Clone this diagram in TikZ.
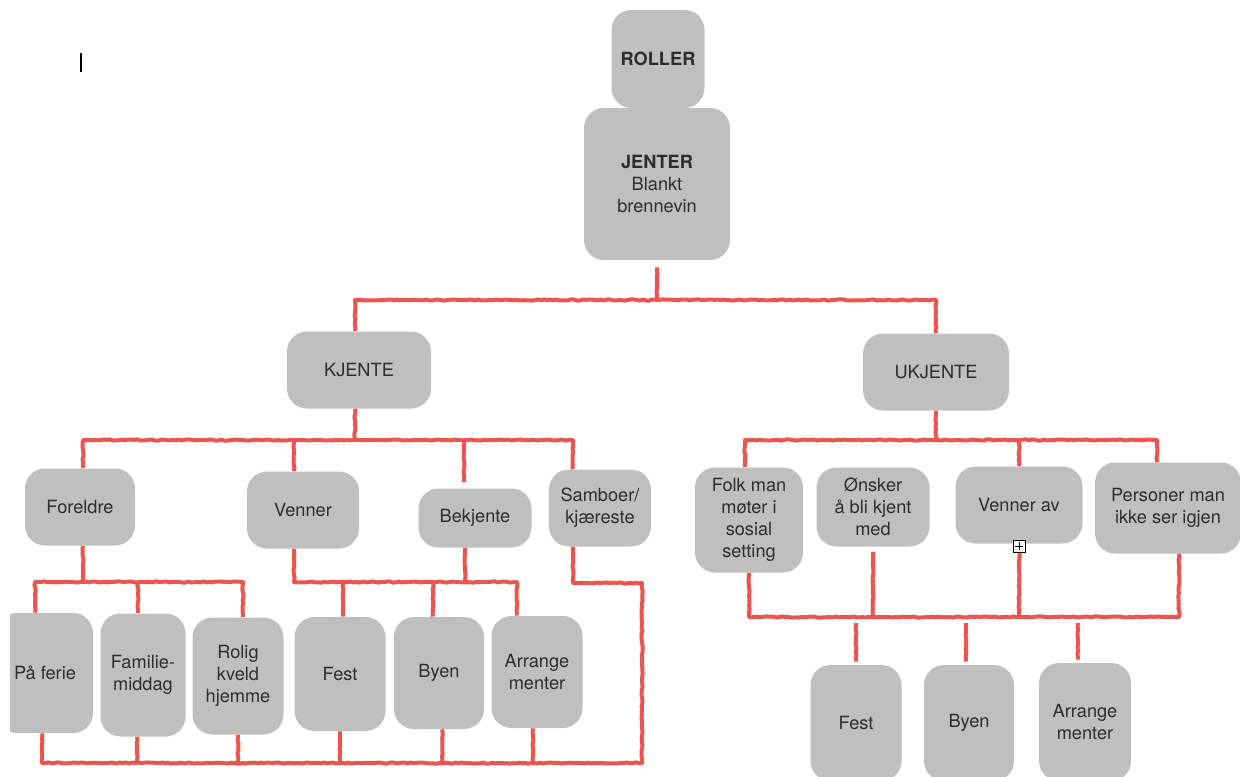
\documentclass[tikz,border=0pt]{standalone}
\usepackage{fontspec}
\setmainfont{TeX Gyre Heros}
\usetikzlibrary{decorations.pathmorphing}

\definecolor{boxgray}{RGB}{191,191,191}
\definecolor{inkgray}{RGB}{45,45,45}
\definecolor{tiered}{RGB}{236,84,79}

\tikzset{
  role/.style={fill=boxgray, rounded corners=10pt, text=inkgray, align=center,
    inner sep=0pt, font=\fontsize{9.1}{10.9}\selectfont},
  tie/.style={draw=tiered, line width=2pt, line join=round, decorate,
    decoration={random steps, segment length=1.5pt, amplitude=0.3pt}},
  toggle/.style={draw=black, fill=white, line width=0.5pt, minimum size=6pt,
    inner sep=0pt, path picture={
      \draw[line width=0.45pt] ([xshift=-1.9pt]path picture bounding box.center)
        -- ([xshift=1.9pt]path picture bounding box.center);
      \draw[line width=0.45pt] ([yshift=-1.9pt]path picture bounding box.center)
        -- ([yshift=1.9pt]path picture bounding box.center);}},
}

\begin{document}
\begin{tikzpicture}[x=0.5pt, y=-0.5pt]
\useasboundingbox (0,0) rectangle (1240,776);

\path (658,59) node[role, minimum width=46.5pt, minimum height=49pt] (roller) {\textbf{ROLLER}}
		(657,184) node[role, minimum width=73pt, minimum height=76pt] (jenter) {\textbf{JENTER}\\Blankt\\brennevin}
		(359,370) node[role, minimum width=72pt, minimum height=38.5pt] (kjente) {KJENTE}
		(936,372) node[role, minimum width=73pt, minimum height=38.5pt] (ukjente) {UKJENTE}
		(80,507) node[role, minimum width=55pt, minimum height=38.5pt] (foreldre) {Foreldre}
		(303,510) node[role, minimum width=56pt, minimum height=38.5pt] (venner) {Venner}
		(475,518) node[role, minimum width=56.5pt, minimum height=29.5pt] (bekjente) {Bekjente}
		(600,508) node[role, minimum width=51pt, minimum height=38.5pt] (samboer) {Samboer/\\kjæreste}
		(143,675) node[role, minimum width=42.5pt, minimum height=61.5pt] (familie) {Familie-\\middag}
		(238,676) node[role, minimum width=45.5pt, minimum height=58.5pt] (rolig) {Rolig\\kveld\\hjemme}
		(340,674) node[role, minimum width=45.5pt, minimum height=57pt] (fest) {Fest}
		(439,673) node[role, minimum width=45pt, minimum height=56pt] (byen) {Byen}
		(537,672) node[role, minimum width=45.5pt, minimum height=56pt] (arr) {Arrange\\menter}
		(749,520) node[role, minimum width=54pt, minimum height=52.5pt] (folk) {Folk man\\møter i\\sosial\\setting}
		(873,507) node[role, minimum width=56.5pt, minimum height=39.5pt] (onsker) {Ønsker\\å bli kjent\\med}
		(1019,505) node[role, minimum width=63.5pt, minimum height=38.5pt] (vennerav) {Venner av}
		(1168,508) node[role, minimum width=73pt, minimum height=45.5pt] (personer) {Personer man\\ikke ser igjen}
		(856,723) node[role, minimum width=45.5pt, minimum height=58pt] (fest2) {Fest}
		(969,723) node[role, minimum width=45pt, minimum height=58pt] (byen2) {Byen}
		(1085,722) node[role, minimum width=46pt, minimum height=59pt] (arr2) {Arrange\\menter};

% cut off at the left edge
\begin{scope}
\clip (10,0) rectangle (1240,776);
\path (45,673) node[role, minimum width=48pt, minimum height=60pt] (ferie) {På ferie};
\end{scope}

% JENTER -> KJENTE / UKJENTE
\coordinate (jbar) at (657,300);
\draw[tie] ([yshift=-3.5pt]jenter.south) -- (jbar);
\draw[tie] ([xshift=-2pt]kjente.north) |- (jbar) -| (ukjente.north);

% KJENTE
\coordinate (kbar) at (355,440);
\draw[tie] ([xshift=-2pt]kjente.south) -- (kbar);
\draw[tie] ([xshift=1.5pt]foreldre.north) |- (kbar) -| ([xshift=-13.5pt]samboer.north);
\draw[tie] ([xshift=-4.5pt]venner.north) -- ([xshift=-4.5pt]venner.north |- kbar);
\draw[tie] ([xshift=-5.5pt,yshift=3pt]bekjente.north) -- ([xshift=-5.5pt]bekjente.north |- kbar);

% UKJENTE
\coordinate (ubar) at (936,440);
\draw[tie] (ukjente.south) -- (ubar);
\draw[tie] ([xshift=-2pt]folk.north) |- (ubar) -| ([xshift=-5.5pt]personer.north);
\draw[tie] (vennerav.north) -- (vennerav.north |- ubar);

% Foreldre
\coordinate (fbar) at (83,582);
\draw[tie] ([xshift=1.5pt]foreldre.south) -- (fbar);
\draw[tie] ([xshift=-5pt]ferie.north) |- (fbar) -| ([xshift=2.5pt]rolig.north);
\draw[tie] ([xshift=-2.5pt]familie.north) -- ([xshift=-2.5pt]familie.north |- fbar);

% Venner og Bekjente
\coordinate (vbar) at (294,582);
\draw[tie] ([xshift=-4.5pt]venner.south) -- (vbar) -| ([xshift=-10pt]arr.north);
\draw[tie] ([xshift=-5pt]bekjente.south) -- ([xshift=-5pt]bekjente.south |- vbar);
\draw[tie] ([xshift=1.5pt]fest.north) -- ([xshift=1.5pt]fest.north |- vbar);
\draw[tie] ([xshift=-3pt]byen.north) -- ([xshift=-3pt]byen.north |- vbar);

% bunnlinje
\coordinate (sbend) at (642,583);
\coordinate (lbar) at (642,763);
\draw[tie] ([xshift=-13.5pt]samboer.south) |- (sbend) -- (lbar) -| ([xshift=-1.5pt]ferie.south);
\draw[tie] ([xshift=-3pt]familie.south) -- ([xshift=-3pt]familie.south |- lbar);
\draw[tie] (rolig.south) -- (rolig.south |- lbar);
\draw[tie] (fest.south) -- (fest.south |- lbar);
\draw[tie] ([xshift=1.5pt]byen.south) -- ([xshift=1.5pt]byen.south |- lbar);
\draw[tie] ([xshift=-2pt]arr.south) -- ([xshift=-2pt]arr.south |- lbar);

% UKJENTE, nederst
\coordinate (ulow) at (1019,617);
\draw[tie] (folk.south) |- (ulow) -| ([xshift=5.5pt]personer.south);
\draw[tie] ([yshift=-2.5pt]onsker.south) -- (onsker.south |- ulow);
\draw[tie] ([yshift=-3pt]vennerav.south) -- (ulow);
\draw[tie] ([yshift=1.5pt]fest2.north) -- ([yshift=-3pt]fest2.north |- ulow);
\draw[tie] ([xshift=-1.5pt,yshift=1.5pt]byen2.north) -- ([xshift=-1.5pt,yshift=-3pt]byen2.north |- ulow);
\draw[tie] ([xshift=-3.5pt,yshift=1.5pt]arr2.north) -- ([xshift=-3.5pt,yshift=-3pt]arr2.north |- ulow);

\path (1019,546) node[toggle] (plus) {};
\draw[line width=0.75pt] (81,53) -- (81,72);
\end{tikzpicture}
\end{document}
